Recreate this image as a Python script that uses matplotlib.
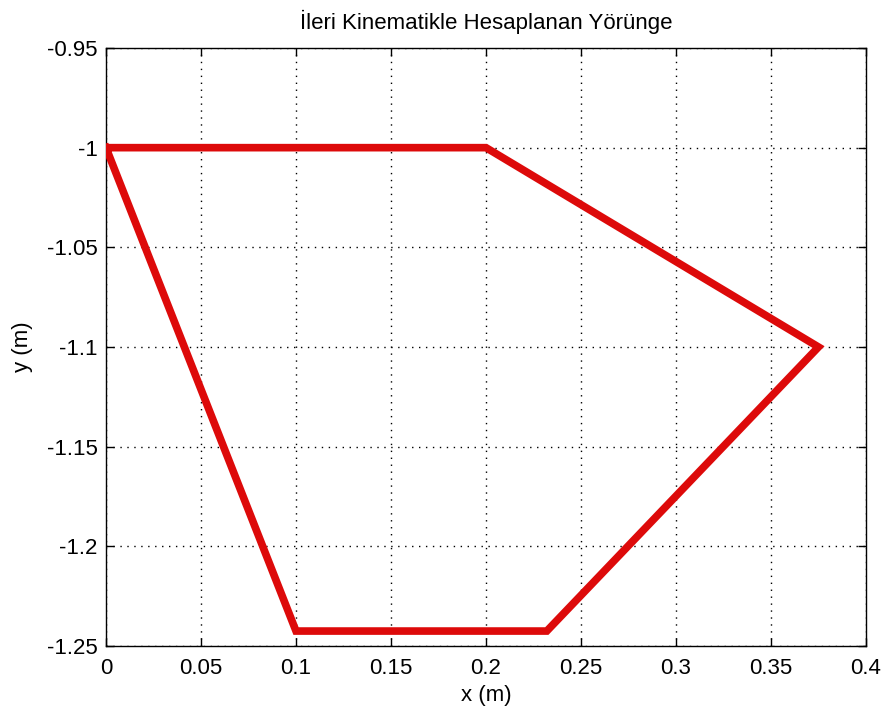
import matplotlib
matplotlib.use("Agg")
import matplotlib.pyplot as plt

# trajectory vertices (m)
x_pts = [0.0, 0.2, 0.375, 0.232, 0.1, 0.0]
y_pts = [-1.0, -1.0, -1.1, -1.2425, -1.2425, -1.0]

x_ticks = [0, 0.05, 0.1, 0.15, 0.2, 0.25, 0.3, 0.35, 0.4]
x_labels = ["0", "0.05", "0.1", "0.15", "0.2", "0.25", "0.3", "0.35", "0.4"]
y_ticks = [-1.25, -1.2, -1.15, -1.1, -1.05, -1.0, -0.95]
y_labels = ["-1.25", "-1.2", "-1.15", "-1.1", "-1.05", "-1", "-0.95"]

plt.rcParams['font.family'] = ['Liberation Sans', 'DejaVu Sans']

fig = plt.figure(figsize=(8.87, 7.16), dpi=100)
ax = fig.add_axes([106/887, 1-646/716, 760/887, 598/716])

ax.plot(x_pts, y_pts, color='#dd0a0a', linewidth=5.5, solid_joinstyle='miter', zorder=3)

ax.set_xlim(0, 0.4)
ax.set_ylim(-1.25, -0.95)
ax.set_xticks(x_ticks)
ax.set_xticklabels(x_labels)
ax.set_yticks(y_ticks)
ax.set_yticklabels(y_labels)
ax.tick_params(direction='in', length=6, width=1, top=True, right=True,
               labelsize=16, colors='black')
ax.tick_params(axis='x', pad=9)
ax.tick_params(axis='y', pad=6)
ax.grid(True, color='black', linestyle=(0, (1, 4)), linewidth=1)
for s in ax.spines.values():
    s.set_linewidth(1)
ax.set_xlabel("x (m)", fontsize=16, labelpad=4)
ax.set_ylabel("y (m)", fontsize=16, labelpad=10)
ax.set_title("İleri Kinematikle Hesaplanan Yörünge", fontsize=16, pad=14)

fig.savefig("out.png", dpi=100)
